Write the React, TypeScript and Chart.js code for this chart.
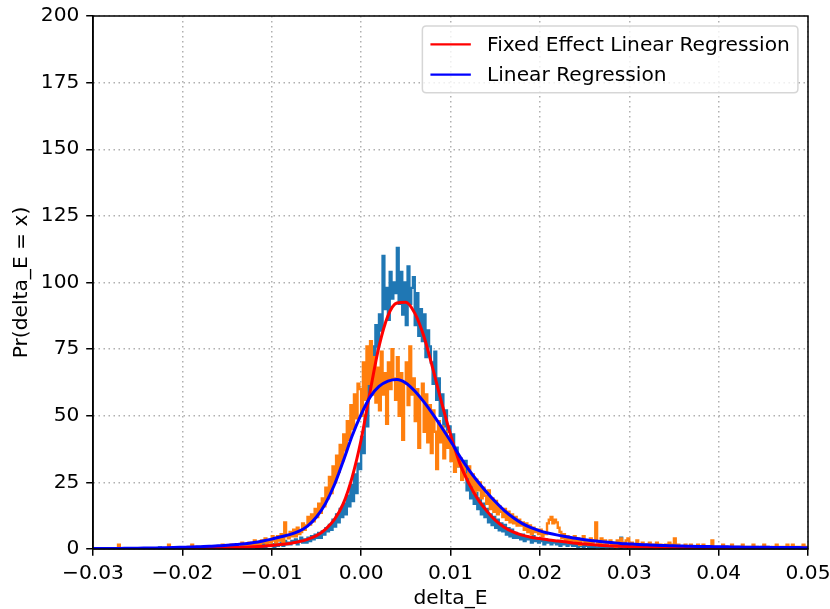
import React, { useEffect, useRef } from "react";
import { Chart, registerables } from "chart.js";

Chart.register(...registerables);

// ---------- data ----------
const BIN_START = -0.03;
const BIN_WIDTH = 0.0002;

// histogram of delta_E, fixed effect model (blue, C0); one row = 10 bins = 0.002
const HIST_FE = [
  0, 0, 0, 0, 0, 0, 0, 0, 0, 0,
  0, 0, 0, 0, 0, 0, 0, 0, 0, 0,
  0, 0, 0, 0, 0, 0, 0, 0, 0, 0,
  0, 0, 0, 0, 0, 0, 0, 0, 0.6, 0,
  0, 0, 0, 0, 0, 0, 0, 0, 0, 0,
  0, 0, 0, 0, 0, 0, 0, 0, 0, 0,
  0, 0, 0, 0.6, 0, 0, 0, 0, 0, 0,
  0, 0, 0, 0, 0, 0.6, 0, 0, 0, 0,
  0, 0.6, 0, 0, 0, 0.6, 0, 0, 0.6, 0,
  0, 0.6, 1.2, 0.6, 1.2, 0.6, 1.8, 0.6, 1.2, 1.2,
  1.2, 1.8, 0.6, 2.4, 1.2, 1.8, 2.4, 1.2, 3.0, 1.8,
  2.4, 1.8, 3.0, 2.4, 3.6, 1.8, 3.0, 4.2, 2.4, 3.6,
  2.4, 4.2, 3.0, 4.8, 3.6, 5.4, 4.2, 6.0, 4.2, 6.6,
  5.4, 7.8, 6.6, 9.0, 7.2, 11, 8.4, 13, 10, 15,
  12, 17, 13, 20, 16, 24, 18, 28, 21, 32,
  30, 42, 36, 50, 46, 62, 58, 76, 70, 84,
  76, 88, 82, 110, 90, 98, 86, 104, 94, 100,
  96, 113, 92, 104, 88, 100, 84, 106, 92, 98,
  102, 84, 96, 80, 90, 78, 88, 72, 82, 76,
  70, 62, 74, 56, 64, 50, 58, 46, 52, 44,
  46, 40, 43, 35, 38, 31, 34, 27, 30, 33,
  22, 28, 19, 24, 17, 21, 15, 19, 13, 17,
  12, 15, 10, 13, 9, 12, 8, 11, 7, 9.6,
  6.6, 9, 5.4, 7.8, 4.8, 7.2, 4.2, 6.0, 4.2, 5.4,
  3.6, 5.4, 3.0, 4.8, 3.6, 4.2, 2.4, 4.8, 3.0, 3.6,
  2.4, 3.6, 3.0, 1.8, 3.6, 2.4, 3.0, 1.8, 3.0, 2.4,
  1.8, 3.0, 1.2, 2.4, 1.8, 2.4, 1.2, 1.8, 2.4, 1.2,
  1.8, 1.2, 0.6, 1.8, 1.2, 0.6, 1.2, 1.8, 0.6, 1.2,
  0.6, 1.2, 0.6, 0, 1.2, 0.6, 1.2, 0.6, 0, 0.6,
  0.6, 0, 1.2, 0.6, 0, 0.6, 4.2, 0.6, 0, 0.6,
  0.6, 0, 0.6, 0, 0, 1.2, 0, 0.6, 0, 0,
  0, 0.6, 0, 0, 0.6, 0, 0, 0, 0.6, 0,
  0, 0, 0.6, 0, 0, 0, 0.6, 0, 0, 0,
  0, 0, 0, 0.6, 0, 0, 0, 0, 0, 0.6,
  0, 0, 0, 0, 0, 0.6, 0, 0, 0, 0,
  0, 0.6, 0, 0, 0, 0, 0, 0, 0, 0,
  0, 0, 0, 0, 0.6, 0, 0, 0, 0, 0,
  0, 0, 0, 0, 0, 0, 0, 0.6, 0, 0,
  0, 0, 0, 0, 0, 0, 0, 0, 0, 0,
  0, 0, 0, 0.6, 0, 0, 0, 0, 0, 0,
];

// histogram of delta_E, linear regression model (orange, C1)
const HIST_LR = [
  0, 0, 0, 0, 0, 0, 0, 0, 0, 0,
  0, 0, 0, 0, 0, 1.6, 0, 0, 0, 0,
  0, 0, 0, 0, 0, 0, 0, 0, 0, 0,
  0, 0, 0, 0, 0, 0, 0, 0, 0, 0,
  0, 0, 0, 1.6, 0, 0, 0, 0, 0, 0,
  0, 0, 0, 0, 0.8, 0, 1.6, 0, 0, 0.8,
  0, 0.8, 0, 0, 0, 0, 0.8, 0, 0, 0,
  0.8, 0, 0, 1.6, 0.8, 0, 0, 0.8, 1.6, 0.8,
  0.8, 1.6, 0.8, 0, 2.4, 0.8, 1.6, 0.8, 2.4, 1.6,
  1.6, 3.2, 0.8, 2.4, 1.6, 3.2, 2.4, 4.0, 1.6, 3.2,
  2.4, 4.8, 3.2, 2.4, 4.8, 3.2, 5.6, 2.4, 10, 4.8,
  4.0, 6.4, 4.8, 7.2, 4.8, 8.0, 5.6, 6.4, 9.6, 7.2,
  8.8, 12, 9.2, 13, 10.4, 15, 12, 17, 13.6, 19,
  16, 23, 19, 27, 21, 31, 25, 35, 29, 39,
  33, 43, 37, 48, 41, 54, 45, 58, 49, 62,
  60, 50, 70, 56, 76, 62, 78, 58, 72, 55,
  68, 52, 74, 58, 66, 47, 70, 60, 75, 64,
  56, 72, 50, 66, 41, 62, 70, 54, 76, 58,
  64, 48, 60, 38, 56, 62, 44, 58, 40, 54,
  36, 52, 44, 30, 48, 40, 46, 34, 44, 38,
  42, 33, 38, 29, 36, 31, 34, 26, 32, 28,
  27, 31, 24, 28, 21, 26, 22, 25, 19, 23,
  20, 17, 22, 15, 19, 14, 18, 13, 16, 14,
  12, 15, 11, 14, 10, 13, 9.6, 12, 8.8, 11,
  8.8, 10, 7.2, 9.6, 6.4, 8.8, 5.6, 8, 6.4, 7.2,
  5.6, 7.2, 4.8, 6.4, 5.6, 9.6, 11, 12, 9.6, 11,
  10, 8, 6.4, 4.0, 5.6, 3.2, 4.8, 2.4, 4.0, 3.2,
  4.8, 2.4, 4.0, 1.6, 3.2, 4.8, 2.4, 3.2, 1.6, 4.0,
  2.4, 3.2, 10, 2.4, 1.6, 4.0, 2.4, 3.2, 1.6, 2.4,
  3.2, 1.6, 2.4, 0.8, 3.2, 1.6, 4.0, 2.4, 1.6, 3.2,
  4.0, 1.6, 2.4, 0.8, 1.6, 3.2, 0.8, 1.6, 2.4, 0.8,
  1.6, 0.8, 2.4, 0.8, 1.6, 0, 2.4, 0.8, 1.6, 0.8,
  0.8, 1.6, 0.8, 2.4, 0, 1.6, 4.0, 0.8, 1.6, 0,
  0.8, 0, 1.6, 0.8, 0, 1.6, 0.8, 0, 0.8, 1.6,
  0, 0.8, 1.6, 0, 0.8, 0, 0.8, 3.2, 0, 0.8,
  0.8, 0, 0.8, 1.6, 0, 0.8, 0, 0, 1.6, 0.8,
  0, 0.8, 0, 0.8, 1.6, 0, 0.8, 0, 0.8, 0,
  1.6, 0, 0.8, 0, 0, 0.8, 1.6, 0, 0.8, 0,
  0, 0.8, 0, 1.6, 0, 0.8, 0, 0.8, 0, 1.6,
  0.8, 0, 1.6, 0, 0.8, 0, 0.8, 0, 1.6, 0.8,
];

const CURVE_START = -0.03;
const CURVE_STEP = 0.001;

// smooth density, fixed effect linear regression (red)
const KDE_FE = [
  0.05, 0.05, 0.06, 0.07, 0.08, 0.09, 0.1, 0.12, 0.14, 0.16,
  0.2, 0.23, 0.27, 0.32, 0.38, 0.45, 0.55, 0.68, 0.85, 1.05,
  1.3, 1.65, 2.1, 2.7, 3.6, 5.0, 7.4, 11, 17, 27,
  41, 59, 76, 87.5, 92.3, 92.6, 88.5, 80, 68, 55,
  43, 32.5, 25, 19, 14.5, 10.8, 8.2, 6.4, 5.2, 4.4,
  3.9, 3.4, 3.0, 2.6, 2.2, 1.9, 1.6, 1.35, 1.15, 1.0,
  0.9, 0.8, 0.72, 0.65, 0.58, 0.52, 0.47, 0.42, 0.38, 0.34,
  0.3, 0.28, 0.26, 0.24, 0.22, 0.2, 0.18, 0.17, 0.16, 0.15,
  0.14,
];

// smooth density, linear regression (blue)
const KDE_LR = [
  0.15, 0.17, 0.2, 0.23, 0.27, 0.3, 0.35, 0.4, 0.47, 0.55,
  0.65, 0.75, 0.88, 1.0, 1.2, 1.4, 1.65, 1.95, 2.4, 3.0,
  3.7, 4.6, 5.4, 6.6, 8.6, 12, 17, 24, 33, 42.5,
  50.5, 57, 61, 63, 63.6, 62.3, 59.3, 55.3, 50.7, 45.7,
  40.5, 35, 30, 25.5, 21.5, 17.8, 14.5, 11.8, 9.6, 8.0,
  6.8, 5.9, 5.2, 4.6, 4.0, 3.5, 3.1, 2.7, 2.4, 2.1,
  1.9, 1.7, 1.55, 1.4, 1.3, 1.2, 1.1, 1.0, 0.95, 0.9,
  0.85, 0.8, 0.75, 0.7, 0.67, 0.63, 0.6, 0.57, 0.54, 0.52,
  0.5,
];

const LABEL_FE = "Fixed Effect Linear Regression";
const LABEL_LR = "Linear Regression";
const X_TITLE = "delta_E";
const Y_TITLE = "Pr(delta_E = x)";
const X_MIN = -0.03;
const X_MAX = 0.05;
const X_STEP = 0.01;
const Y_MIN = 0;
const Y_MAX = 200;
const Y_STEP = 25;

// ---------- helpers ----------
const FONT = '"DejaVu Sans", "Liberation Sans", sans-serif';
const FS = 20.2;

function histPoints(values: number[]) {
  const pts = values.map((v, i) => ({ x: BIN_START + i * BIN_WIDTH, y: v }));
  pts.push({ x: BIN_START + values.length * BIN_WIDTH, y: values[values.length - 1] });
  return pts;
}

function curvePoints(values: number[]) {
  return values.map((v, i) => ({ x: CURVE_START + i * CURVE_STEP, y: v }));
}

const LEGEND_INDICES = [1, 0]; // FE first, then LR

const framePlusLegend = {
  id: "framePlusLegend",
  afterDatasetsDraw(chart: any) {
    const { ctx, chartArea } = chart;
    ctx.save();
    ctx.strokeStyle = "#000";
    ctx.lineWidth = 1.5;
    ctx.setLineDash([]);
    ctx.strokeRect(
      chartArea.left,
      chartArea.top,
      chartArea.right - chartArea.left,
      chartArea.bottom - chartArea.top
    );

    ctx.font = `${FS}px ${FONT}`;
    const items = LEGEND_INDICES.map((i) => chart.data.datasets[i]);
    const textW = Math.max(...items.map((d: any) => ctx.measureText(d.label).width));
    const pad = 0.4 * FS;
    const handle = 2 * FS;
    const hpad = 0.8 * FS;
    const rowH = 1.0 * FS;
    const spacing = 0.5 * FS;
    const axpad = 0.5 * FS;
    const w = pad * 2 + handle + hpad + textW;
    const h = pad * 2 + rowH * items.length + spacing * (items.length - 1);
    const x0 = chartArea.right - axpad - w;
    const y0 = chartArea.top + axpad;

    const r = 4;
    ctx.beginPath();
    ctx.moveTo(x0 + r, y0);
    ctx.lineTo(x0 + w - r, y0);
    ctx.quadraticCurveTo(x0 + w, y0, x0 + w, y0 + r);
    ctx.lineTo(x0 + w, y0 + h - r);
    ctx.quadraticCurveTo(x0 + w, y0 + h, x0 + w - r, y0 + h);
    ctx.lineTo(x0 + r, y0 + h);
    ctx.quadraticCurveTo(x0, y0 + h, x0, y0 + h - r);
    ctx.lineTo(x0, y0 + r);
    ctx.quadraticCurveTo(x0, y0, x0 + r, y0);
    ctx.closePath();
    ctx.fillStyle = "rgba(255,255,255,0.8)";
    ctx.fill();
    ctx.strokeStyle = "rgba(204,204,204,0.8)";
    ctx.lineWidth = 1.5;
    ctx.stroke();

    items.forEach((d: any, k: number) => {
      const cy = y0 + pad + k * (rowH + spacing) + rowH / 2;
      ctx.beginPath();
      ctx.strokeStyle = d.borderColor;
      ctx.lineWidth = 2.2;
      ctx.moveTo(x0 + pad, cy);
      ctx.lineTo(x0 + pad + handle, cy);
      ctx.stroke();
      ctx.fillStyle = "#000";
      ctx.textBaseline = "middle";
      ctx.textAlign = "left";
      ctx.fillText(d.label, x0 + pad + handle + hpad, cy + 1);
    });
    ctx.restore();
  },
};

function fmtX(v: number | string) {
  const n = Number(v);
  const s = Math.abs(n).toFixed(2);
  return n < -1e-9 ? "\u2212" + s : s;
}

export default function App() {
  const ref = useRef<HTMLCanvasElement | null>(null);

  useEffect(() => {
    if (!ref.current) return;
    const tickFont = { size: FS, family: FONT };
    const titleFont = { size: FS, family: FONT, lineHeight: 1.0 };
    const gridOpts = {
      color: "#b0b0b0",
      lineWidth: 1.5,
      drawTicks: true,
      tickLength: 6.8,
      tickColor: "#000",
      tickWidth: 1.5,
      tickBorderDash: [],
    };
    const chart = new Chart(ref.current, {
      type: "line",
      data: {
        datasets: [
          {
            label: LABEL_LR,
            data: curvePoints(KDE_LR),
            borderColor: "#0000ff",
            borderWidth: 3,
            pointRadius: 0,
            cubicInterpolationMode: "monotone",
            fill: false,
            clip: 0,
          },
          {
            label: LABEL_FE,
            data: curvePoints(KDE_FE),
            borderColor: "#ff0000",
            borderWidth: 3,
            pointRadius: 0,
            cubicInterpolationMode: "monotone",
            fill: false,
            clip: 0,
          },
          {
            label: "hist LR",
            data: histPoints(HIST_LR),
            borderColor: "#ff7f0e",
            borderWidth: 2.4,
            pointRadius: 0,
            stepped: "after",
            fill: false,
            clip: 0,
          },
          {
            label: "hist FE",
            data: histPoints(HIST_FE),
            borderColor: "#1f77b4",
            borderWidth: 2.4,
            pointRadius: 0,
            stepped: "after",
            fill: false,
            clip: 0,
          },
        ],
      },
      options: {
        responsive: false,
        animation: false,
        events: [],
        layout: { padding: { top: 16, right: 22, left: 0, bottom: 0 } },
        plugins: {
          legend: { display: false },
          tooltip: { enabled: false },
        },
        scales: {
          x: {
            type: "linear",
            min: X_MIN,
            max: X_MAX,
            ticks: {
              stepSize: X_STEP,
              callback: fmtX,
              color: "#000",
              font: tickFont,
              padding: 6,
              maxRotation: 0,
              autoSkip: false,
            },
            grid: gridOpts,
            border: { display: true, color: "#000", width: 1.5, dash: [1.5, 3.5] },
            title: {
              display: true,
              text: X_TITLE,
              color: "#000",
              font: titleFont,
              padding: { top: 0, bottom: 0 },
            },
            afterFit: (s: any) => {
              s.height = 60;
              s.paddingLeft = 0;
              s.paddingRight = 0;
            },
          },
          y: {
            type: "linear",
            min: Y_MIN,
            max: Y_MAX,
            ticks: {
              stepSize: Y_STEP,
              color: "#000",
              font: tickFont,
              padding: 6.8,
            },
            grid: gridOpts,
            border: { display: true, color: "#000", width: 1.5, dash: [1.5, 3.5] },
            title: {
              display: true,
              text: Y_TITLE,
              color: "#000",
              font: titleFont,
              padding: { top: 12, bottom: 0 },
            },
            afterFit: (s: any) => {
              s.width = 93;
              s.paddingTop = 0;
              s.paddingBottom = 0;
            },
          },
        },
      },
      plugins: [framePlusLegend],
    } as any);
    return () => chart.destroy();
  }, []);

  return (
    <div style={{ position: "absolute", left: 0, top: 0, width: 830, height: 609, background: "#fff" }}>
      <canvas ref={ref} width={830} height={609} style={{ display: "block", width: 830, height: 609 }} />
    </div>
  );
}
